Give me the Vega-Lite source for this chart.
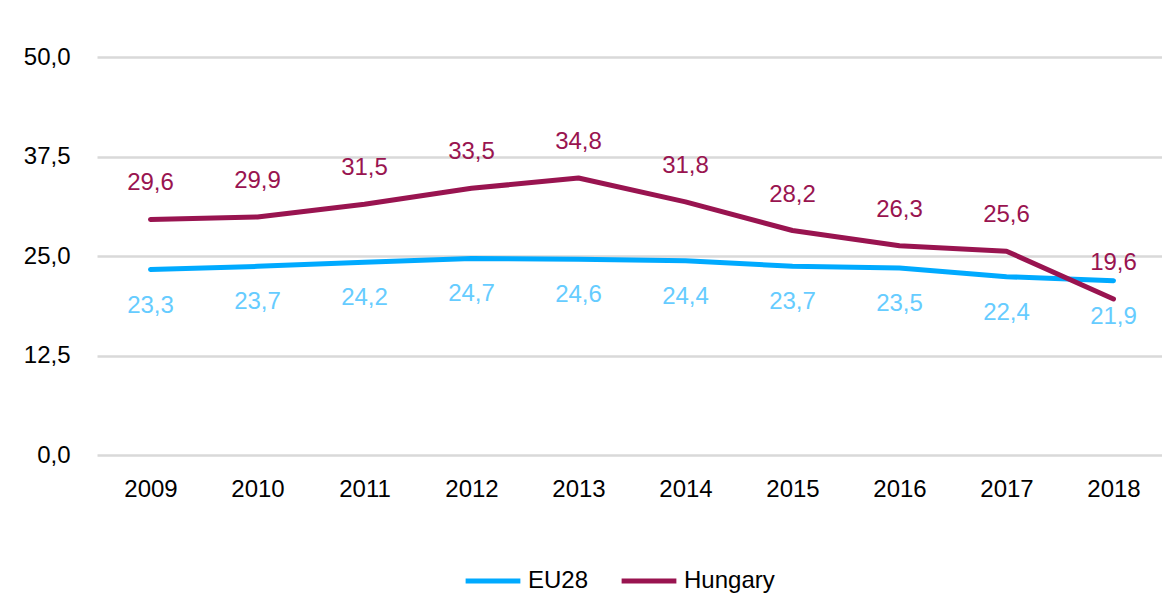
{
  "$schema": "https://vega.github.io/schema/vega-lite/v6.json",
  "autosize": {"type": "none"},
  "width": 1070,
  "height": 398,
  "padding": {"left": 97, "top": 57, "right": 0, "bottom": 144},
  "background": "white",
  "config": {
    "locale": {"number": {"decimal": ",", "thousands": ".", "grouping": [3], "currency": ["", "€"]}},
    "font": "Liberation Sans",
    "view": {"stroke": null}
  },
  "data": {
    "values": [
      {"year": "2009", "series": "EU28", "value": 23.3},
      {"year": "2010", "series": "EU28", "value": 23.7},
      {"year": "2011", "series": "EU28", "value": 24.2},
      {"year": "2012", "series": "EU28", "value": 24.7},
      {"year": "2013", "series": "EU28", "value": 24.6},
      {"year": "2014", "series": "EU28", "value": 24.4},
      {"year": "2015", "series": "EU28", "value": 23.7},
      {"year": "2016", "series": "EU28", "value": 23.5},
      {"year": "2017", "series": "EU28", "value": 22.4},
      {"year": "2018", "series": "EU28", "value": 21.9},
      {"year": "2009", "series": "Hungary", "value": 29.6},
      {"year": "2010", "series": "Hungary", "value": 29.9},
      {"year": "2011", "series": "Hungary", "value": 31.5},
      {"year": "2012", "series": "Hungary", "value": 33.5},
      {"year": "2013", "series": "Hungary", "value": 34.8},
      {"year": "2014", "series": "Hungary", "value": 31.8},
      {"year": "2015", "series": "Hungary", "value": 28.2},
      {"year": "2016", "series": "Hungary", "value": 26.3},
      {"year": "2017", "series": "Hungary", "value": 25.6},
      {"year": "2018", "series": "Hungary", "value": 19.6}
    ]
  },
  "encoding": {
    "x": {
      "field": "year", "type": "ordinal",
      "scale": {"type": "point", "padding": 0.5},
      "axis": {"title": null, "domain": false, "ticks": false, "labelAngle": 0, "labelFontSize": 24, "labelColor": "#000000", "labelPadding": 22}
    },
    "y": {
      "field": "value", "type": "quantitative",
      "scale": {"domain": [0, 50], "nice": false},
      "axis": {"title": null, "domain": false, "ticks": false, "values": [0, 12.5, 25, 37.5, 50], "format": ".1f", "labelFontSize": 24, "labelColor": "#000000", "labelPadding": 27, "gridColor": "#d9d9d9", "gridWidth": 2.5}
    }
  },
  "layer": [
    {
      "mark": {"type": "line", "strokeWidth": 5, "strokeCap": "round", "strokeJoin": "round"},
      "encoding": {
        "color": {
          "field": "series", "type": "nominal",
          "scale": {"domain": ["EU28", "Hungary"], "range": ["#00aaff", "#991450"]},
          "legend": {"title": null, "orient": "none", "direction": "horizontal", "legendX": 366, "legendY": 494, "symbolType": "stroke", "symbolSize": 3000, "symbolStrokeWidth": 5, "labelFontSize": 24, "labelColor": "#000000", "labelOffset": 5, "columnPadding": 22}
        }
      }
    },
    {
      "transform": [{"filter": "datum.series == 'Hungary'"}],
      "mark": {"type": "text", "dy": -36, "fontSize": 24, "color": "#991450"},
      "encoding": {"text": {"field": "value", "type": "quantitative", "format": ".1f"}}
    },
    {
      "transform": [{"filter": "datum.series == 'EU28'"}],
      "mark": {"type": "text", "dy": 36, "fontSize": 24, "color": "#66ccff"},
      "encoding": {"text": {"field": "value", "type": "quantitative", "format": ".1f"}}
    }
  ]
}
